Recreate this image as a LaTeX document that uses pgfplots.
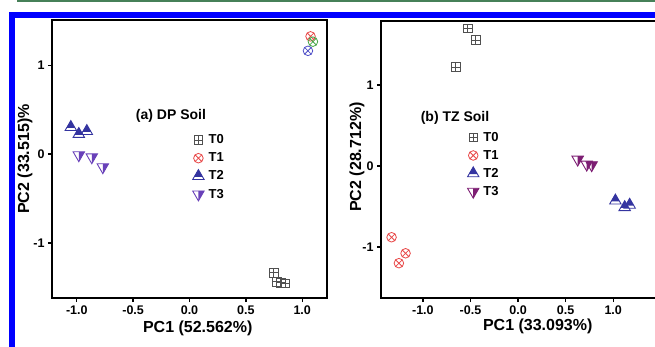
\documentclass[border=0pt]{standalone}
\usepackage{fontspec}
\setmainfont{Liberation Sans}
\usepackage{pgfplots}
\pgfplotsset{compat=1.18}

\definecolor{decogreen}{RGB}{70,128,88}
\definecolor{cT0}{RGB}{80,80,80}
\definecolor{cT1}{RGB}{232,72,72}
\definecolor{cT1g}{RGB}{70,165,70}
\definecolor{cT1b}{RGB}{80,80,200}
\definecolor{cT2}{RGB}{52,52,160}
\definecolor{cT3a}{RGB}{105,65,185}
\definecolor{cT3b}{RGB}{125,30,115}

\pgfdeclareplotmark{boxplusm}{%
  \pgfpathrectangle{\pgfqpoint{-\pgfplotmarksize}{-\pgfplotmarksize}}{\pgfqpoint{2\pgfplotmarksize}{2\pgfplotmarksize}}%
  \pgfpathmoveto{\pgfqpoint{-\pgfplotmarksize}{0pt}}\pgfpathlineto{\pgfqpoint{\pgfplotmarksize}{0pt}}%
  \pgfpathmoveto{\pgfqpoint{0pt}{-\pgfplotmarksize}}\pgfpathlineto{\pgfqpoint{0pt}{\pgfplotmarksize}}%
  \pgfusepathqstroke}
\pgfdeclareplotmark{uptrihalf}{%
  \pgfpathmoveto{\pgfqpoint{0pt}{\pgfplotmarksize}}%
  \pgfpathlineto{\pgfqpoint{0.635\pgfplotmarksize}{-0.1\pgfplotmarksize}}%
  \pgfpathlineto{\pgfqpoint{-0.635\pgfplotmarksize}{-0.1\pgfplotmarksize}}%
  \pgfpathclose\pgfusepathqfill
  \pgfpathmoveto{\pgfqpoint{0pt}{\pgfplotmarksize}}%
  \pgfpathlineto{\pgfqpoint{0.866\pgfplotmarksize}{-0.5\pgfplotmarksize}}%
  \pgfpathlineto{\pgfqpoint{-0.866\pgfplotmarksize}{-0.5\pgfplotmarksize}}%
  \pgfpathclose\pgfusepathqstroke}
\pgfdeclareplotmark{dntrihalf}{%
  \pgfpathmoveto{\pgfqpoint{0pt}{0.5\pgfplotmarksize}}%
  \pgfpathlineto{\pgfqpoint{0.866\pgfplotmarksize}{0.5\pgfplotmarksize}}%
  \pgfpathlineto{\pgfqpoint{0pt}{-\pgfplotmarksize}}%
  \pgfpathclose\pgfusepathqfill
  \pgfpathmoveto{\pgfqpoint{-0.866\pgfplotmarksize}{0.5\pgfplotmarksize}}%
  \pgfpathlineto{\pgfqpoint{0.866\pgfplotmarksize}{0.5\pgfplotmarksize}}%
  \pgfpathlineto{\pgfqpoint{0pt}{-\pgfplotmarksize}}%
  \pgfpathclose\pgfusepathqstroke}

\pgfplotsset{
  pcastyle/.style={
    scale only axis, width=275pt,
    axis line style={line width=1.6pt},
    every tick/.style={black, line width=1.3pt},
    tick align=outside, tick pos=left, major tick length=4pt,
    tick label style={font=\fontsize{12.5}{12.5}\selectfont\bfseries},
    label style={font=\fontsize{16}{16}\selectfont\bfseries},
    xtick={-1,-0.5,0,0.5,1}, xticklabels={-1.0,-0.5,0.0,0.5,1.0},
    ytick={-1,0,1}, yticklabels={-1,0,1},
    legend cell align=left,
    legend image code/.code={\draw[mark repeat=2,mark phase=2,##1] plot coordinates {(0pt,0pt)(5pt,0pt)(10pt,0pt)};},
  },
  sT0/.style={only marks, mark=boxplusm, mark size=4.3pt, color=cT0, line width=0.8pt},
  sT1/.style={only marks, mark=otimes, mark size=4.8pt, color=#1, line width=0.8pt},
  sT2/.style={only marks, mark=uptrihalf, mark size=6.6pt, color=cT2, line width=0.9pt},
  sT3/.style={only marks, mark=dntrihalf, mark size=6.6pt, color=#1, line width=0.9pt},
  pcalegend/.style={draw=none, fill=none, anchor=north west,
    font=\fontsize{13}{13}\selectfont\bfseries, row sep=4.5pt, nodes={inner sep=1.5pt},
    /tikz/every odd column/.append style={column sep=3pt}},
}

\begin{document}
\begin{tikzpicture}[x=1pt,y=1pt]
% frame decorations of the figure
\fill[decogreen] (17,343.5) rectangle (660,346);
\fill[blue] (9,328) rectangle (660,334);
\fill[blue] (9,-5) rectangle (15,334);

% ---------------- (a) DP Soil
\begin{axis}[pcastyle, at={(52pt,48pt)}, anchor=south west, height=278pt,
  xmin=-1.22, xmax=1.22, ymin=-1.62, ymax=1.51,
  xlabel={PC1 (52.562\%)}, ylabel={PC2 (33.515)\%},
  x label style={at={(axis description cs:0.53,-0.108)}, anchor=center},
  y label style={at={(axis description cs:-0.098,0.5)}, anchor=center},
  legend style={pcalegend, at={(axis description cs:0.500,0.600)}},
]
\addplot[sT0] coordinates {(0.747,-1.337) (0.773,-1.438) (0.813,-1.449) (0.849,-1.455)};
\addlegendentry{T0}
\addplot[sT1=cT1] coordinates {(1.074,1.326)};
\addlegendentry{T1}
\addplot[sT2] coordinates {(-1.053,0.303) (-0.982,0.225) (-0.911,0.258)};
\addlegendentry{T2}
\addplot[sT3=cT3a] coordinates {(-0.982,-0.011) (-0.867,-0.034) (-0.769,-0.146)};
\addlegendentry{T3}
\addplot[sT1=cT1b, forget plot] coordinates {(1.051,1.163)};
\addplot[sT1=cT1g, forget plot] coordinates {(1.095,1.266)};
\end{axis}

% ---------------- (b) TZ Soil
\begin{axis}[pcastyle, at={(381pt,48pt)}, anchor=south west, height=277pt,
  xmin=-1.44, xmax=1.45, ymin=-1.63, ymax=1.79,
  xlabel={PC1 (33.093\%)}, ylabel={PC2 (28.712\%)},
  x label style={at={(axis description cs:0.57,-0.101)}, anchor=center},
  y label style={at={(axis description cs:-0.087,0.509)}, anchor=center},
  legend style={pcalegend, at={(axis description cs:0.303,0.612)}},
]
\addplot[sT0] coordinates {(-0.528,1.700) (-0.444,1.556) (-0.654,1.222)};
\addlegendentry{T0}
\addplot[sT1=cT1] coordinates {(-1.329,-0.880) (-1.182,-1.078) (-1.252,-1.200)};
\addlegendentry{T1}
\addplot[sT2] coordinates {(1.023,-0.429) (1.121,-0.510) (1.173,-0.481)};
\addlegendentry{T2}
\addplot[sT3=cT3b] coordinates {(0.627,0.080) (0.722,0.019) (0.774,0.012)};
\addlegendentry{T3}
\end{axis}

\node[font=\fontsize{14}{14}\selectfont\bfseries] at (171,230) {(a) DP Soil};
\node[font=\fontsize{14}{14}\selectfont\bfseries] at (455,228) {(b) TZ Soil};

\pgfresetboundingbox
\useasboundingbox (0,0) rectangle (655,346);
\end{tikzpicture}
\end{document}
